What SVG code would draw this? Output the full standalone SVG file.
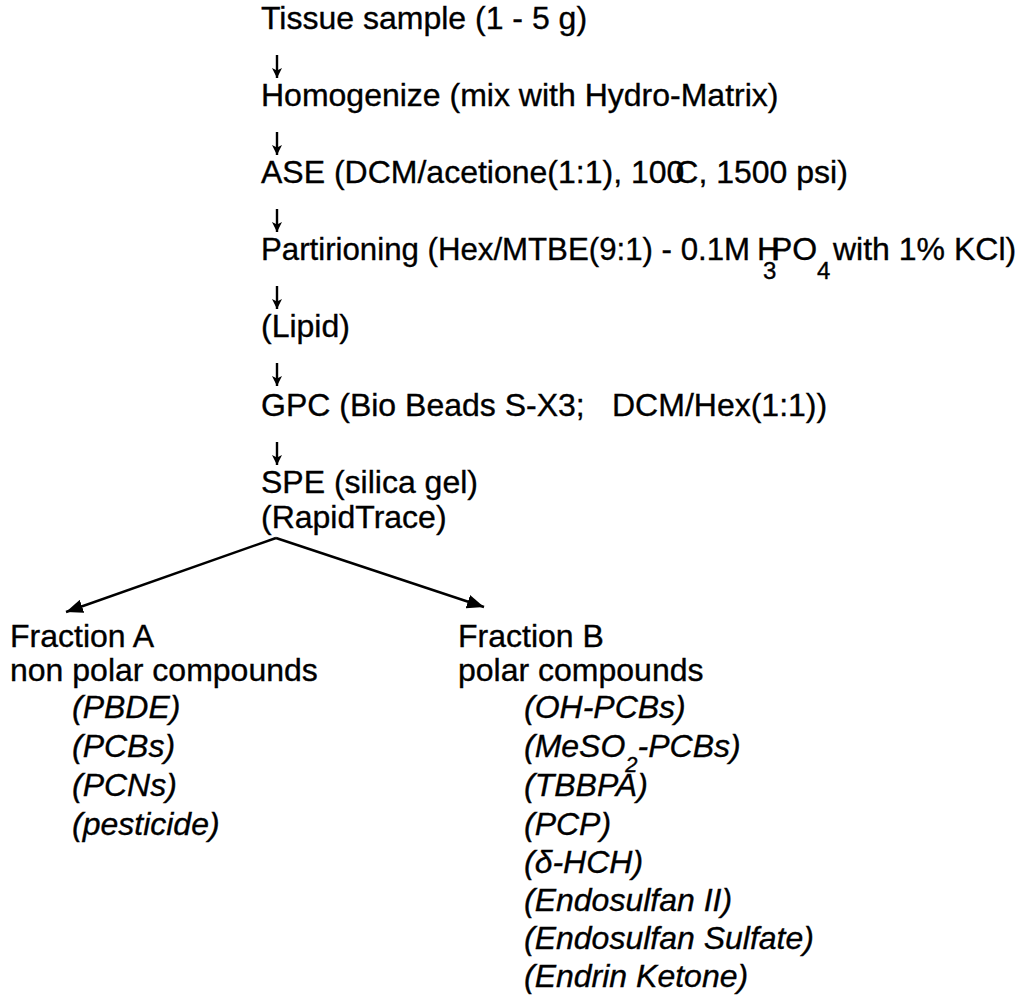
<svg xmlns="http://www.w3.org/2000/svg" width="1035" height="997" viewBox="0 0 1035 997">
<style>
text{font-family:"Liberation Sans",Arial,Helvetica,sans-serif;font-size:32px;fill:#000;stroke:#000;stroke-width:0.35}
.it{font-style:italic}
.sub{font-size:22px}
.sub2{font-size:24px}
.down{stroke:#000;stroke-width:2.4;fill:none}
.diag{stroke:#000;stroke-width:2.4;fill:none}
</style>
<defs>
<marker id="sm" viewBox="0 0 10 10" refX="10" refY="5" markerWidth="10" markerHeight="11" markerUnits="userSpaceOnUse" orient="auto">
<path d="M0,0 L10,5 L0,10 L2.5,5 z" fill="#000"/>
</marker>
<marker id="bg" viewBox="0 0 16 13" refX="16" refY="6.5" markerWidth="17" markerHeight="14" markerUnits="userSpaceOnUse" orient="auto">
<path d="M0,0 L16,6.5 L0,13 z" fill="#000"/>
</marker>
</defs>
<rect width="1035" height="997" fill="#fff"/>
<g id="connectors">
<path class="down" d="M277,55 V78" marker-end="url(#sm)"/>
<path class="down" d="M277,132 V155" marker-end="url(#sm)"/>
<path class="down" d="M277,209 V232" marker-end="url(#sm)"/>
<path class="down" d="M277,286 V309" marker-end="url(#sm)"/>
<path class="down" d="M277,363 V386" marker-end="url(#sm)"/>
<path class="down" d="M277,442 V465" marker-end="url(#sm)"/>
<path class="diag" d="M276,538 L66,612" marker-end="url(#bg)"/>
<path class="diag" d="M276,538 L484,607" marker-end="url(#bg)"/>
</g>
<g id="tissue"><text x="261" y="29">Tissue sample (1 - 5 g)</text></g>
<g id="homogenize"><text x="261" y="106">Homogenize (mix with Hydro-Matrix)</text></g>
<g id="ase"><text x="261" y="183">ASE (DCM/acetione(1:1), 100<tspan dx="-9">C</tspan>, 1500 psi)</text></g>
<g id="partitioning">
<text x="261" y="260" textLength="489" lengthAdjust="spacingAndGlyphs">Partirioning (Hex/MTBE(9:1) - 0.1M</text>
<text x="757" y="260">H</text>
<text class="sub2" x="763" y="279">3</text>
<text x="771" y="260">PO</text>
<text class="sub2" x="817" y="279">4</text>
<text x="833" y="260">with 1% KCl)</text>
</g>
<g id="lipid"><text x="261" y="337">(Lipid)</text></g>
<g id="gpc"><text x="261" y="416">GPC (Bio Beads S-X3;</text><text x="612" y="416">DCM/Hex(1:1))</text></g>
<g id="spe"><text x="261" y="493">SPE (silica gel)</text><text x="261" y="528">(RapidTrace)</text></g>
<g id="fractionA">
<text x="10" y="647">Fraction A</text>
<text x="10" y="681">non polar compounds</text>
<text class="it" x="72" y="718">(PBDE)</text>
<text class="it" x="72" y="757">(PCBs)</text>
<text class="it" x="72" y="796">(PCNs)</text>
<text class="it" x="72" y="835">(pesticide)</text>
</g>
<g id="fractionB">
<text x="458" y="647">Fraction B</text>
<text x="458" y="681">polar compounds</text>
<text class="it" x="524" y="718">(OH-PCBs)</text>
<text class="it" x="524" y="757">(MeSO<tspan class="sub" dy="15">2</tspan><tspan dy="-15">-PCBs)</tspan></text>
<text class="it" x="524" y="796">(TBBPA)</text>
<text class="it" x="524" y="835">(PCP)</text>
<text class="it" x="524" y="873">(δ-HCH)</text>
<text class="it" x="524" y="911">(Endosulfan II)</text>
<text class="it" x="524" y="949">(Endosulfan Sulfate)</text>
<text class="it" x="524" y="987">(Endrin Ketone)</text>
</g>
</svg>
